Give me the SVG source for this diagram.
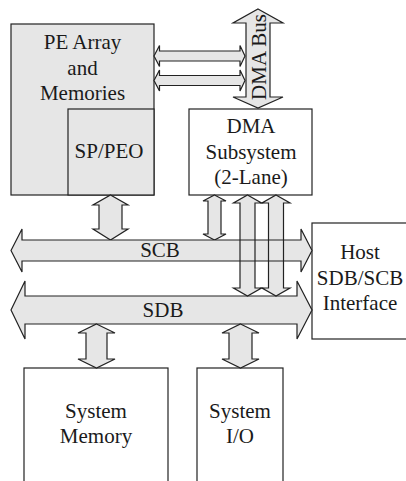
<svg xmlns="http://www.w3.org/2000/svg" xmlns:xlink="http://www.w3.org/1999/xlink" width="406" height="481" viewBox="0 0 406 481">
<style>
.box{stroke:#222;stroke-width:1.2;fill:#fff}
.gray{fill:#e6e6e6}
.ar{fill:#e6e6e6;stroke:#222;stroke-width:1.2;stroke-linejoin:miter}
.fo{fill:#e6e6e6;stroke:none}
.so{fill:none;stroke:#222;stroke-width:1.2}
.t{font-family:'Liberation Serif','DejaVu Serif',serif;font-size:21px;fill:#1a1a1a;text-anchor:middle}
</style>
<defs>
<path id="scb" d="M11,250.5 L22,229 L22,240 L301,240 L301,229 L312,250.5 L301,272 L301,261 L22,261 L22,272 Z"/>
</defs>
<rect width="406" height="481" fill="#fff"/>
<g id="pe-array">
<rect class="box gray" x="11" y="24" width="143" height="171"/>
<text class="t" x="82.5" y="49">PE Array</text>
<text class="t" x="82.5" y="75">and</text>
<text class="t" x="82.5" y="100">Memories</text>
</g>
<g id="sp-peo">
<rect class="box gray" x="68" y="109" width="86" height="86" stroke-width="1.4"/>
<text class="t" x="109" y="158">SP/PEO</text>
</g>
<g id="dma-subsystem">
<rect class="box" x="189" y="109" width="123" height="86"/>
<text class="t" x="251" y="133">DMA</text>
<text class="t" x="251" y="159">Subsystem</text>
<text class="t" x="251" y="184">(2-Lane)</text>
</g>
<g id="host">
<rect class="box" x="312" y="223" width="100" height="116"/>
<text class="t" x="360" y="259">Host</text>
<text class="t" x="360" y="285">SDB/SCB</text>
<text class="t" x="360" y="310">Interface</text>
</g>
<g id="system-memory">
<rect class="box" x="24" y="368" width="144" height="130"/>
<text class="t" x="96" y="418">System</text>
<text class="t" x="96" y="443">Memory</text>
</g>
<g id="system-io">
<rect class="box" x="197" y="368" width="86" height="130"/>
<text class="t" x="240" y="418">System</text>
<text class="t" x="240" y="443">I/O</text>
</g>
<g id="connectors">
<path class="ar" d="M258,9 L283,23 L270,23 L270,97 L283,97 L258,108 L233,97 L246,97 L246,23 L233,23 Z"/>
<text class="t" transform="translate(266,57) rotate(-90)" x="0" y="0">DMA Bus</text>
<path class="ar" d="M154,56 L159.5,45.5 L159.5,51 L240,51 L240,45.5 L245,56 L240,66.5 L240,61 L159.5,61 L159.5,66.5 Z"/>
<path class="ar" d="M154,80.5 L159.5,70 L159.5,75.5 L240,75.5 L240,70 L245,80.5 L240,91 L240,85.5 L159.5,85.5 L159.5,91 Z"/>
<path class="ar" d="M110.5,195 L128,205 L122,205 L122,229 L128,229 L110.5,240 L93,229 L99,229 L99,205 L93,205 Z"/>
<path class="ar" d="M214.5,195 L226,201 L221,201 L221,234 L226,234 L214.5,240 L203,234 L208,234 L208,201 L203,201 Z"/>
<path class="ar" d="M11,310 L25,281 L25,296 L297,296 L297,281 L312,310 L297,339 L297,324 L25,324 L25,339 Z"/>
<text class="t" x="163" y="317">SDB</text>
<use xlink:href="#scb" class="fo"/>
<path class="ar" d="M247.5,195 L261.5,203 L255,203 L255,288 L261.5,288 L247.5,296 L233.5,288 L240,288 L240,203 L233.5,203 Z"/>
<path class="ar" d="M276,195 L290,203 L283.5,203 L283.5,288 L290,288 L276,296 L262,288 L268.5,288 L268.5,203 L262,203 Z"/>
<use xlink:href="#scb" class="so"/>
<text class="t" x="160" y="257">SCB</text>
<path class="ar" d="M96.5,324 L115,333 L107,333 L107,359 L115,359 L96.5,368 L78,359 L86,359 L86,333 L78,333 Z"/>
<path class="ar" d="M240.5,324 L259,333 L252,333 L252,359 L259,359 L240.5,368 L222,359 L229,359 L229,333 L222,333 Z"/>
</g>
</svg>
